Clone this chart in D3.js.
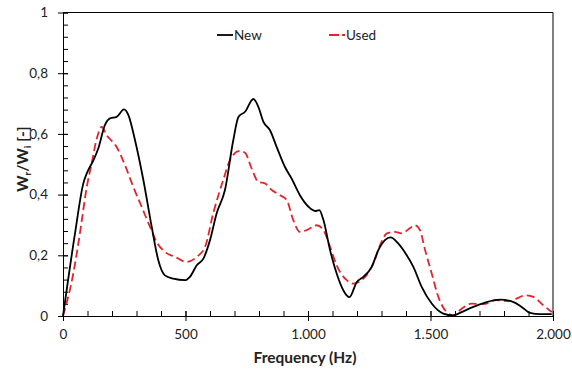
<!DOCTYPE html>
<html>
<head>
<meta charset="utf-8">
<script src="https://cdn.jsdelivr.net/npm/d3@7"></script>
<style>
  body { margin: 0; background: #fff; }
  svg text { font-family: Lato, "Open Sans", sans-serif; fill: #222; }
</style>
</head>
<body>
<svg id="chart"></svg>
<script>
// values
const freqNew = [0, 49, 83, 97, 124, 144, 171, 192, 219, 249, 267, 294, 328, 362, 389, 416, 450, 498, 518, 546, 573, 600, 627, 661, 695, 716, 743, 777, 797, 818, 845, 872, 906, 933, 967, 1002, 1029, 1046, 1063, 1090, 1117, 1144, 1169, 1199, 1226, 1260, 1287, 1314, 1337, 1368, 1403, 1430, 1464, 1505, 1552, 1593, 1627, 1675, 1729, 1784, 1839, 1872, 1906, 1947, 1995]
const valNew = [0, 0.272, 0.437, 0.47, 0.513, 0.552, 0.629, 0.651, 0.656, 0.681, 0.662, 0.579, 0.448, 0.294, 0.184, 0.134, 0.123, 0.118, 0.129, 0.167, 0.189, 0.25, 0.338, 0.415, 0.579, 0.656, 0.673, 0.715, 0.69, 0.64, 0.612, 0.557, 0.491, 0.453, 0.398, 0.36, 0.346, 0.349, 0.316, 0.217, 0.14, 0.085, 0.062, 0.112, 0.129, 0.162, 0.217, 0.25, 0.259, 0.239, 0.2, 0.162, 0.096, 0.041, 0.008, 0.002, 0.013, 0.03, 0.046, 0.054, 0.046, 0.03, 0.01, 0.006, 0.006]

const freqUsed = [0, 42, 69, 97, 117, 138, 158, 178, 219, 253, 287, 321, 355, 382, 416, 457, 505, 546, 580, 613, 654, 688, 722, 743, 770, 797, 824, 852, 886, 913, 940, 967, 995, 1036, 1063, 1090, 1117, 1158, 1185, 1226, 1267, 1294, 1322, 1355, 1382, 1409, 1437, 1457, 1478, 1505, 1532, 1566, 1593, 1627, 1668, 1715, 1770, 1824, 1851, 1886, 1920, 1961, 1995]
const valUsed = [0, 0.14, 0.272, 0.425, 0.503, 0.585, 0.623, 0.596, 0.557, 0.497, 0.425, 0.36, 0.294, 0.244, 0.211, 0.195, 0.178, 0.195, 0.228, 0.338, 0.448, 0.524, 0.544, 0.538, 0.486, 0.442, 0.437, 0.415, 0.398, 0.382, 0.316, 0.277, 0.283, 0.299, 0.283, 0.228, 0.167, 0.118, 0.107, 0.123, 0.173, 0.233, 0.272, 0.277, 0.272, 0.285, 0.299, 0.283, 0.217, 0.14, 0.063, 0.013, 0.002, 0.024, 0.041, 0.039, 0.052, 0.049, 0.057, 0.068, 0.063, 0.035, 0.013]

const xTicks = [0, 500, 1000, 1500, 2000]
const yTicks = [0, 0.2, 0.4, 0.6, 0.8, 1]

const width = 572, height = 372
const margin = {top: 12.5, right: 19, bottom: 56, left: 63}
const innerW = width - margin.left - margin.right
const innerH = height - margin.top - margin.bottom

const svg = d3.select("#chart").attr("width", width).attr("height", height)
const g = svg.append("g").attr("transform", `translate(${margin.left},${margin.top})`)

const x = d3.scaleLinear().domain([0, 2000]).range([0, innerW])
const y = d3.scaleLinear().domain([0, 1]).range([innerH, 0])

const fmtX = d => d3.format(",")(d).replace(/,/g, ".")
const fmtY = d => String(d).replace(".", ",")

// minor ticks (inside)
g.append("g")
    .attr("transform", `translate(0,${innerH})`)
    .call(d3.axisTop(x).tickValues(d3.range(0, 2001, 100)).tickSize(5).tickFormat(""))
    .call(a => a.select(".domain").remove())
g.append("g")
    .call(d3.axisRight(y).tickValues(d3.range(0, 1.0001, 0.04)).tickSize(5).tickFormat(""))
    .call(a => a.select(".domain").remove())

// major ticks (crossing)
const xAxis = g.append("g")
    .attr("transform", `translate(0,${innerH})`)
    .call(d3.axisBottom(x).tickValues(xTicks).tickSizeInner(5).tickSizeOuter(0).tickPadding(8).tickFormat(fmtX))
xAxis.selectAll(".tick line").attr("y1", -5)
xAxis.selectAll("text").style("font-size", "13.5px")

const yAxis = g.append("g")
    .call(d3.axisLeft(y).tickValues(yTicks).tickSizeInner(5).tickSizeOuter(0).tickPadding(10).tickFormat(fmtY))
yAxis.selectAll(".tick line").attr("x1", 5)
yAxis.selectAll("text").style("font-size", "13.5px")

g.selectAll(".domain").attr("stroke", "#000")
g.selectAll(".tick line").attr("stroke", "#000")

// frame top/right
g.append("path")
    .attr("d", `M0,0H${innerW}V${innerH}`)
    .attr("fill", "none").attr("stroke", "#000")

const line = d3.line().curve(d3.curveMonotoneX)

g.append("path")
    .datum(freqUsed.map((f, i) => [x(f), y(valUsed[i])]))
    .attr("d", line)
    .attr("fill", "none")
    .attr("stroke", "#e3242b")
    .attr("stroke-width", 1.8)
    .attr("stroke-dasharray", "8,4")

g.append("path")
    .datum(freqNew.map((f, i) => [x(f), y(valNew[i])]))
    .attr("d", line)
    .attr("fill", "none")
    .attr("stroke", "#000")
    .attr("stroke-width", 1.8)

// legend
const legend = svg.append("g")
legend.append("line").attr("x1", 217).attr("x2", 233).attr("y1", 35).attr("y2", 35)
    .attr("stroke", "#000").attr("stroke-width", 1.8)
legend.append("text").attr("x", 234).attr("y", 40).style("font-size", "13.5px").text("New")
legend.append("line").attr("x1", 329).attr("x2", 345).attr("y1", 35).attr("y2", 35)
    .attr("stroke", "#e3242b").attr("stroke-width", 1.8).attr("stroke-dasharray", "10,3")
legend.append("text").attr("x", 346).attr("y", 40).style("font-size", "13.5px").text("Used")

// axis titles
svg.append("text")
    .attr("x", 305).attr("y", 363)
    .attr("text-anchor", "middle")
    .style("font-size", "15.5px").style("font-weight", "bold")
    .text("Frequency (Hz)")

const yt = svg.append("text")
    .attr("transform", "translate(28,159) rotate(-90)")
    .attr("text-anchor", "middle")
    .style("font-size", "15.5px").style("font-weight", "bold")
yt.append("tspan").text("W")
yt.append("tspan").attr("dy", 3).style("font-size", "10px").text("r")
yt.append("tspan").attr("dy", -3).text("/W")
yt.append("tspan").attr("dy", 3).style("font-size", "10px").text("i")
yt.append("tspan").attr("dy", -3).text(" [-]")
</script>
</body>
</html>
